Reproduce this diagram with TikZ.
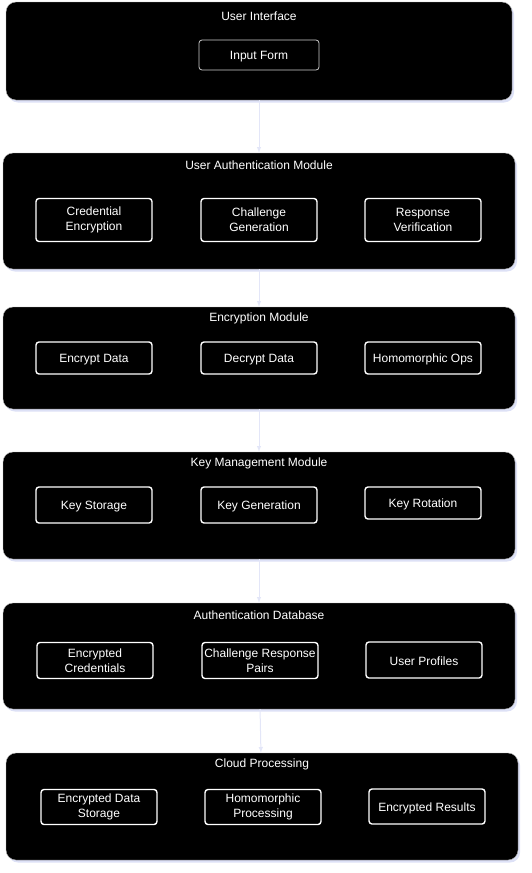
\documentclass[tikz,border=0pt]{standalone}
\usepackage{fontspec}
\setmainfont{Liberation Sans}
\usetikzlibrary{shadows}
\definecolor{shade}{HTML}{DDE1F6}
\definecolor{flow}{HTML}{E3E6F8}
\tikzset{
  module/.style={draw=gray!60,fill=black,rounded corners=10pt,
    drop shadow={shadow xshift=2pt,shadow yshift=-2.5pt,fill=shade,opacity=1}},
  title/.style={text=white,yshift=-0.8pt},
  part/.style={draw=white,line width=1.4pt,rounded corners=3pt,text=white,
    align=center,inner sep=1pt,minimum width=116pt},
  single/.style={part,text height=12pt},
  flowarrow/.style={draw=flow,line width=1pt,-latex}
}
\begin{document}
\begin{tikzpicture}[x=1pt,y=-1pt,font=\fontsize{12}{15}\selectfont]
\useasboundingbox (0,0) rectangle (531,873);
% modules
\node[module,minimum width=506pt,minimum height=98pt](ui)at(259,51){};
\node[module,minimum width=512pt,minimum height=116pt](auth)at(259,211){};
\node[module,minimum width=512pt,minimum height=102pt](enc)at(259,358){};
\node[module,minimum width=512pt,minimum height=107pt](key)at(259,505.5){};
\node[module,minimum width=512pt,minimum height=106pt](db)at(259,656){};
\node[module,minimum width=512pt,minimum height=107pt](cloud)at(262,806.5){};
% titles
\node[title](uit)at(259,15){User Interface};
\node[title](autht)at(259,164){User Authentication Module};
\node[title](enct)at(259,318){Encryption Module};
\node[title](keyt)at(259,463){Key Management Module};
\node[title](dbt)at(259,614){Authentication Database};
\node[title](cloudt)at(262,764){Cloud Processing};
% parts
\node[single,draw=gray!40,line width=0.8pt,minimum width=120pt,minimum height=30pt](form)at(259,55){Input Form};
\node[part,minimum height=43pt](cred)at(94,220){Credential\\Encryption};
\node[part,minimum height=43pt](chal)at(259,220){Challenge\\Generation};
\node[part,minimum height=43pt](resp)at(423,220){Response\\Verification};
\node[single,minimum height=32pt](encd)at(94,358){Encrypt Data};
\node[single,minimum height=32pt](decd)at(259,358){Decrypt Data};
\node[single,minimum height=32pt](homo)at(423,358){Homomorphic Ops};
\node[single,minimum height=36pt](kst)at(94,505){Key Storage};
\node[single,minimum height=36pt](kgen)at(259,505){Key Generation};
\node[single,minimum height=32pt](krot)at(423,503){Key Rotation};
\node[part,minimum height=36pt](ecred)at(95,660.5){Encrypted\\Credentials};
\node[part,minimum height=36pt](pairs)at(260,660.5){Challenge Response\\Pairs};
\node[single,minimum height=36pt](prof)at(424,660){User Profiles};
\node[part,minimum height=35pt](eds)at(99,807){Encrypted Data\\Storage};
\node[part,minimum height=35pt](hproc)at(263,807){Homomorphic\\Processing};
\node[single,minimum height=35pt](eres)at(427,806.5){Encrypted Results};
% flow
\draw[flowarrow](ui)--(auth);
\draw[flowarrow](auth)--(enc);
\draw[flowarrow](enc)--(key);
\draw[flowarrow](key)--(db);
\draw[flowarrow](db)--(cloud);
\end{tikzpicture}
\end{document}
